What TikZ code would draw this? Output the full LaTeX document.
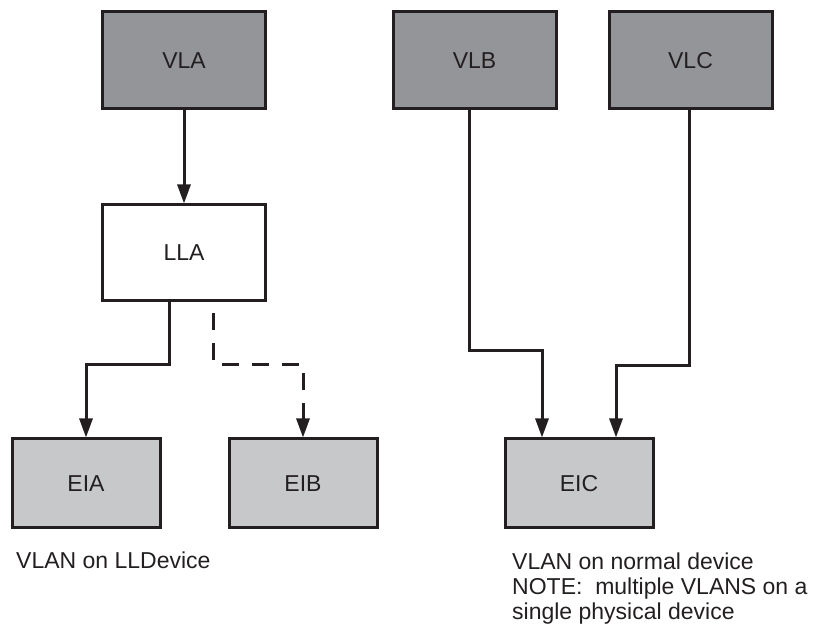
\documentclass[tikz,border=0pt]{standalone}
\usepackage{fontspec}
\setmainfont{Liberation Sans}
\usetikzlibrary{positioning, arrows.meta}
\definecolor{inkline}{HTML}{231F20}
\definecolor{vlanfill}{HTML}{939598}
\definecolor{ifacefill}{HTML}{C7C8CA}
\tikzset{
x=1pt, y=1pt, % one unit is one pixel of the drawing
box/.style={draw=inkline, line width=3pt, rectangle, font=\fontsize{23}{27}\selectfont, text=inkline}, % common box look
vlan/.style={box, fill=vlanfill, minimum width=163pt, minimum height=97pt}, % the dark top boxes
link/.style={box, fill=white, minimum width=163pt, minimum height=96pt}, % the white middle box
iface/.style={box, fill=ifacefill, minimum width=148pt, minimum height=89pt}, % the light bottom boxes
arr/.style={draw=inkline, line width=3pt, -{Triangle[length=19pt, width=13pt]}}, % connectors
dashline/.style={dash pattern=on 17pt off 13pt, dash phase=19pt}, % the dashed connector
caption/.style={font=\fontsize{23}{25}\selectfont, text=inkline, inner sep=0pt, align=left},
}
\begin{document}
\begin{tikzpicture}
                \useasboundingbox (0,0) rectangle (814,626);
                \node[vlan] (VLA) at (184,565.5) {VLA};
                \node[vlan, right=124.5pt of VLA] (VLB) {VLB};
                \node[vlan, right=50pt of VLB] (VLC) {VLC};
                \node[link, below=93pt of VLA] (LLA) {LLA};
                \node[iface] (EIA) at (86,142.5) {EIA};
                \node[iface, right=66pt of EIA] (EIB) {EIB};
                \node[iface, right=125pt of EIB] (EIC) {EIC};
                \node[caption, anchor=base west] (capL) at (16,57) {VLAN on LLDevice};
                \node[caption, anchor=north west] (capR) at (512,73)
                    {VLAN on normal device\\NOTE:\ \ multiple VLANS on a\\single physical device};
                \draw[arr] (VLA) -- (LLA);
                \draw[arr] ([xshift=-15pt]LLA.south) -- ++(0,-62) -| (EIA.north);
                \draw[arr, dashline] ([xshift=29pt]LLA.south) -- ++(0,-62) -| (EIB.north);
                \draw[arr] ([xshift=-5pt]VLB.south) -- ++(0,-240) -| ([xshift=-37pt]EIC.north);
                \draw[arr] ([xshift=-1.5pt]VLC.south) -- ++(0,-255) -| ([xshift=37pt]EIC.north);
\end{tikzpicture}
\end{document}
